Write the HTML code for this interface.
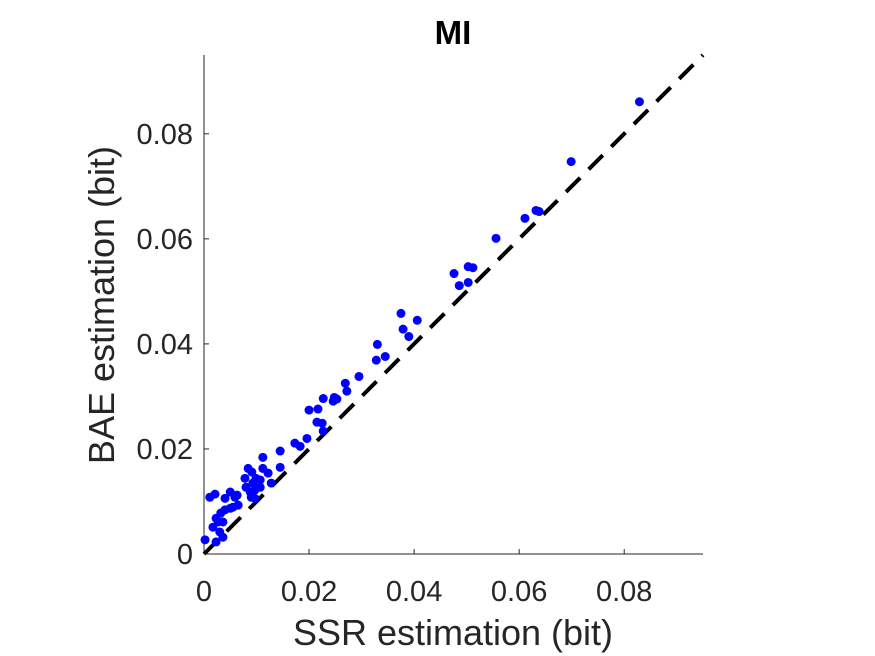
<!DOCTYPE html>
<html><head><meta charset="utf-8"><style>
html,body{margin:0;padding:0;background:#fff;}
svg{display:block;font-family:"Liberation Sans",Arial,sans-serif;}
</style></head><body>
<svg id="chart" width="875" height="656" viewBox="0 0 875 656" xmlns="http://www.w3.org/2000/svg">
<rect width="875" height="656" fill="#fff"/>
<text x="453" y="44" text-anchor="middle" font-size="33" font-weight="bold">MI</text>
<g id="axes"></g>
<g id="marks"></g>
<text x="453" y="645" text-anchor="middle" font-size="36" fill="#262626">SSR estimation (bit)</text>
<text transform="translate(114,305) rotate(-90)" text-anchor="middle" font-size="36" fill="#262626">BAE estimation (bit)</text>
</svg>
<script>
const xTicks=[0,0.02,0.04,0.06,0.08];
const yTicks=[0,0.02,0.04,0.06,0.08];
const tickLabels=["0","0.02","0.04","0.06","0.08"];
const ssrValues=[0.0002,0.0023,0.0036,0.0030,0.0017,0.0023,0.0032,0.0040,0.0050,0.0055,0.0065,0.0027,0.0036,0.0011,0.0021,0.0040,0.0050,0.0059,0.0063,0.0078,0.0084,0.0080,0.0088,0.0090,0.0093,0.0099,0.0107,0.0107,0.0112,0.0122,0.0128,0.0145,0.0112,0.0097,0.0097,0.0091,0.0145,0.0173,0.0183,0.0196,0.0215,0.0225,0.0227,0.0200,0.0217,0.0227,0.0248,0.0246,0.0253,0.0269,0.0272,0.0295,0.0330,0.0328,0.0345,0.0375,0.0379,0.0390,0.0406,0.0476,0.0486,0.0503,0.0503,0.0512,0.0556,0.0611,0.0632,0.0638,0.0699,0.0829];
const baeValues=[0.0027,0.0023,0.0032,0.0042,0.0051,0.0068,0.0078,0.0084,0.0087,0.0089,0.0093,0.0061,0.0061,0.0108,0.0114,0.0106,0.0118,0.0108,0.0112,0.0144,0.0163,0.0127,0.0118,0.0108,0.0135,0.0144,0.0141,0.0127,0.0163,0.0154,0.0135,0.0165,0.0184,0.0122,0.0106,0.0156,0.0196,0.0211,0.0205,0.0220,0.0251,0.0249,0.0234,0.0274,0.0276,0.0296,0.0298,0.0291,0.0295,0.0325,0.0310,0.0338,0.0399,0.0369,0.0376,0.0458,0.0428,0.0414,0.0445,0.0534,0.0511,0.0517,0.0547,0.0545,0.0601,0.0639,0.0654,0.0652,0.0747,0.0861];
const domainMax=0.095;
const X0=204,X1=703,Y0=554,Y1=55;
const sx=v=>X0+(v/domainMax)*(X1-X0);
const sy=v=>Y0-(v/domainMax)*(Y0-Y1);
const NS="http://www.w3.org/2000/svg";
function mk(tag,attrs,parent){const e=document.createElementNS(NS,tag);for(const k in attrs)e.setAttribute(k,attrs[k]);parent.appendChild(e);return e;}
const axes=document.getElementById('axes'),marks=document.getElementById('marks');
let a=mk('line',{x1:X0,y1:Y0,x2:X1,y2:Y0,stroke:'#262626','stroke-width':1},axes);


a=mk('line',{x1:X0,y1:Y0,x2:X0,y2:Y1,stroke:'#262626','stroke-width':1},axes);


xTicks.forEach((t,i)=>{
  const tk=mk('line',{x1:sx(t),y1:Y0,x2:sx(t),y2:Y0-5,stroke:'#262626'},axes);
  
  
  const tl=mk('text',{x:sx(t),y:Y0+47,'text-anchor':'middle','font-size':29,fill:'#262626'},axes);
  tl.textContent=tickLabels[i];
  
  
});
yTicks.forEach((t,i)=>{
  const tk=mk('line',{x1:X0,y1:sy(t),x2:X0+5,y2:sy(t),stroke:'#262626'},axes);
  
  
  const tl=mk('text',{x:X0-11,y:sy(t)+10,'text-anchor':'end','font-size':29,fill:'#262626'},axes);
  tl.textContent=tickLabels[i];
  
  
});
const diag=mk('line',{x1:sx(0),y1:sy(0),x2:sx(domainMax),y2:sy(domainMax),stroke:'#000','stroke-width':4,'stroke-dasharray':'20 12'},marks);


ssrValues.forEach((v,i)=>{
  const c=mk('circle',{cx:sx(v),cy:sy(baeValues[i]),r:4.5,fill:'#0000ff'},marks);
  
  
});
</script>
</body></html>
